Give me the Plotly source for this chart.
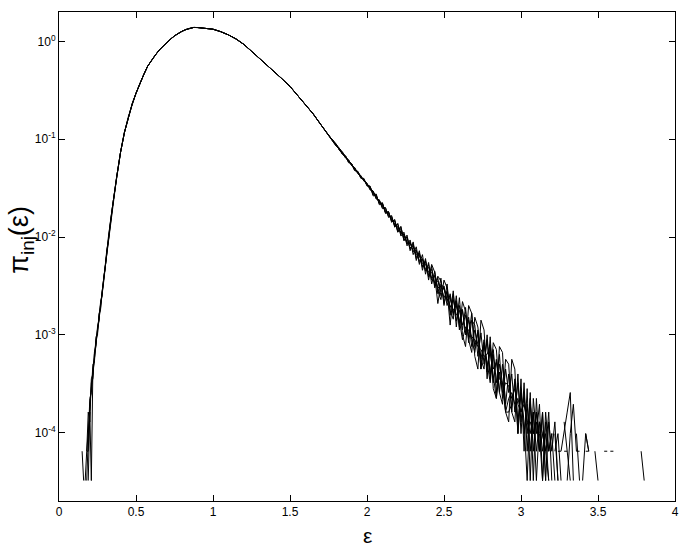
import plotly.graph_objects as go

# ---------------- data (log10 of pi_inj) ----------------
head_x = [0.15, 0.16, 0.17, 0.18, 0.19, 0.20, 0.21, 0.22, 0.23, 0.24,
          0.25, 0.26, 0.27, 0.28, 0.29, 0.30, 0.31, 0.32, 0.33, 0.34]

core_x = [0.350, 0.375, 0.400, 0.425, 0.450, 0.475, 0.500, 0.525, 0.550, 0.575,
          0.600, 0.625, 0.650, 0.675, 0.700, 0.725, 0.750, 0.775, 0.800, 0.825,
          0.850, 0.875, 0.900, 0.950, 1.000, 1.050, 1.100, 1.150, 1.200, 1.250,
          1.300, 1.350, 1.400, 1.450, 1.500, 1.550, 1.600, 1.650, 1.700, 1.750]
core_log = [-1.66, -1.38, -1.13, -0.93, -0.77, -0.64, -0.53, -0.43, -0.34, -0.255,
            -0.195, -0.14, -0.09, -0.048, -0.01, 0.025, 0.057, 0.084, 0.105, 0.122,
            0.136, 0.143, 0.142, 0.135, 0.125, 0.10, 0.067, 0.025, -0.03, -0.10,
            -0.17, -0.24, -0.31, -0.385, -0.46, -0.55, -0.64, -0.74, -0.85, -0.96]

tail_x = [1.80, 1.82, 1.84, 1.86, 1.88, 1.90, 1.92, 1.94, 1.96, 1.98,
          2.00, 2.02, 2.04, 2.06, 2.08, 2.10, 2.12, 2.14, 2.16, 2.18,
          2.20, 2.22, 2.24, 2.26, 2.28, 2.30, 2.32, 2.34, 2.36, 2.38,
          2.40, 2.42, 2.44, 2.46, 2.48, 2.50, 2.52, 2.54, 2.56, 2.58,
          2.60, 2.62, 2.64, 2.66, 2.68, 2.70, 2.72, 2.74, 2.76, 2.78,
          2.80, 2.82, 2.84, 2.86, 2.88, 2.90, 2.92, 2.94, 2.96, 2.98,
          3.00, 3.02, 3.04, 3.06, 3.08, 3.10, 3.12, 3.14, 3.16, 3.18,
          3.20, 3.22, 3.24, 3.26, 3.28, 3.30, 3.32, 3.34, 3.36, 3.38,
          3.40, 3.42, 3.44, 3.46, 3.48, 3.50, 3.52, 3.54, 3.56, 3.58,
          3.60, 3.62, 3.64, 3.66, 3.68, 3.70, 3.72, 3.74, 3.76, 3.78,
          3.80]

N = None

head_a = [N, N, N, N, -4.49, -3.79, -3.49, -3.45, -3.20, -3.12,
          -2.92, -2.85, -2.68, -2.60, -2.42, -2.32, -2.13, -2.05, -1.89, -1.79]
head_b = [-4.19, -4.49, N, -4.49, -4.01, -3.65, -3.59, -3.30, -3.28, -3.02,
          -3.00, -2.78, -2.74, -2.55, -2.46, -2.27, -2.17, -2.01, -1.91, -1.77]
head_c = [N, N, -4.49, -4.19, -4.19, -3.71, -3.54, -3.42, -3.18, -3.10,
          -2.94, -2.86, -2.66, -2.59, -2.43, -2.31, -2.14, -2.04, -1.90, -1.78]
head_d = [N, N, N, -4.19, -4.01, -3.79, -4.49, -3.35, -3.25, -3.05,
          -2.98, -2.80, -2.72, -2.56, -2.45, -2.29, -2.16, -2.02, -1.91, -1.78]
head_e = [N, N, N, -4.19, -3.79, -3.89, -3.45, -3.40, -3.22, -3.08,
          -2.95, -2.82, -2.71, -2.57, -2.44, -2.30, -2.15, -2.03, -1.90, -1.79]

tail_a = [-1.06, -1.09, -1.15, -1.17, -1.23, -1.25, -1.32, -1.33, -1.39, -1.41,
          -1.47, -1.48, -1.58, -1.57, -1.66, -1.65, -1.76, -1.74, -1.84, -1.83,
          -1.95, -1.90, -2.03, -2.00, -2.12, -2.07, -2.22, -2.16, -2.31, -2.24,
          -2.41, -2.30, -2.52, -2.40, -2.45, -2.68, -2.55, -2.90, -2.58, -2.86,
          -2.70, -2.95, -2.72, -3.08, -2.85, -2.90, -3.22, -2.98, -3.30, -3.05,
          -3.40, -3.15, -3.49, -3.20, -3.65, -3.35, -3.59, -3.40, -3.79, -3.49,
          -3.89, -3.59, -4.01, -3.65, -4.19, -3.79, -4.01, -4.49, -3.89, -4.19,
          -4.01, N, -4.19, -4.19, N, -4.49, -4.01, -3.71, -4.19, N,
          N, -4.19, -4.19, N, N, N, N, N, N, N,
          N, N, N, N, N, N, N, N, N, -4.19,
          -4.49]
tail_b = [-1.07, -1.10, -1.14, -1.19, -1.21, -1.27, -1.29, -1.35, -1.37, -1.43,
          -1.45, -1.51, -1.53, -1.61, -1.62, -1.70, -1.70, -1.79, -1.79, -1.89,
          -1.87, -1.97, -1.97, -2.07, -2.05, -2.15, -2.13, -2.26, -2.22, -2.35,
          -2.28, -2.44, -2.40, -2.68, -2.48, -2.52, -2.70, -2.58, -2.78, -2.66,
          -2.92, -2.75, -2.98, -2.85, -3.12, -2.95, -3.10, -3.25, -3.05, -3.38,
          -3.12, -3.49, -3.25, -3.59, -3.30, -3.71, -3.40, -3.79, -3.45, -3.89,
          -3.55, -4.01, -3.71, -4.19, -3.79, -4.49, -3.89, -4.01, -4.19, -3.79,
          -4.49, N, N, -4.19, -4.01, -3.79, -3.59, -4.49, N, N,
          -4.49, -4.01, -4.19, N, N, N, N, -4.19, -4.19, N,
          N, N, N, N, N, N, N, N, N, N,
          N]
tail_c = [-1.05, -1.11, -1.13, -1.18, -1.23, -1.25, -1.31, -1.33, -1.39, -1.41,
          -1.47, -1.49, -1.56, -1.58, -1.65, -1.67, -1.74, -1.75, -1.83, -1.84,
          -1.93, -1.92, -2.01, -2.01, -2.11, -2.09, -2.20, -2.17, -2.30, -2.25,
          -2.39, -2.33, -2.50, -2.42, -2.60, -2.50, -2.66, -2.60, -2.80, -2.65,
          -2.88, -2.74, -3.00, -2.82, -3.05, -3.18, -2.95, -3.35, -3.08, -3.28,
          -3.49, -3.20, -3.59, -3.30, -3.49, -3.79, -3.79, -3.71, -3.49, -4.01,
          -3.59, -3.89, -4.49, -3.71, -4.01, -3.89, -4.19, -3.79, -4.49, N,
          -4.19, -3.89, -4.49, N, -4.19, -4.19, N, N, -4.01, -4.49,
          N, -4.01, -4.19, N, -4.19, -4.49, N, N, N, -4.19,
          -4.19, N, N, N, N, N, N, N, N, N,
          N]
tail_d = [-1.06, -1.10, -1.15, -1.18, -1.22, -1.27, -1.30, -1.34, -1.38, -1.43,
          -1.46, -1.50, -1.54, -1.60, -1.63, -1.69, -1.72, -1.78, -1.80, -1.88,
          -1.89, -1.95, -1.98, -2.05, -2.07, -2.10, -2.18, -2.19, -2.27, -2.28,
          -2.36, -2.36, -2.47, -2.45, -2.56, -2.52, -2.64, -2.63, -2.75, -2.70,
          -2.85, -3.05, -2.92, -2.95, -3.02, -3.05, -3.12, -3.15, -3.22, -3.20,
          -3.10, -3.35, -3.28, -3.45, -3.49, -3.79, -3.65, -3.59, -3.71, -3.65,
          -3.79, -3.71, -3.89, -3.89, -4.01, -3.79, -4.19, -4.01, -4.19, -4.49,
          N, -4.19, -4.01, -4.49, N, N, N, N, -4.19, -4.19,
          N, N, N, N, N, N, N, N, N, N,
          N, N, N, N, N, N, N, N, N, N,
          N]
tail_e = [-1.07, -1.09, -1.15, -1.17, -1.23, -1.26, -1.31, -1.33, -1.39, -1.42,
          -1.46, -1.51, -1.55, -1.58, -1.65, -1.66, -1.75, -1.76, -1.82, -1.87,
          -1.90, -1.96, -1.97, -2.06, -2.06, -2.14, -2.14, -2.24, -2.23, -2.33,
          -2.31, -2.42, -2.39, -2.52, -2.50, -2.62, -2.56, -2.72, -2.64, -2.80,
          -2.75, -2.90, -2.80, -3.02, -2.78, -3.12, -2.98, -3.35, -3.10, -3.32,
          -3.18, -3.40, -3.65, -3.38, -3.59, -3.49, -3.52, -3.65, -3.55, -3.71,
          -3.79, -3.65, -3.89, -4.01, -3.79, -4.19, -3.89, -4.19, -4.01, -4.49,
          N, -4.01, -4.49, N, -3.89, -4.19, -4.49, N, N, N,
          N, N, N, N, N, N, N, N, N, N,
          N, N, N, N, N, N, N, N, N, N,
          N]
# two further runs, visible only where they separate from the others (tail)
tail_f = [-1.05, -1.11, -1.15, -1.17, -1.24, -1.25, -1.32, -1.33, -1.40, -1.40,
          -1.48, -1.48, -1.57, -1.56, -1.67, -1.65, -1.75, -1.74, -1.85, -1.82,
          -1.95, -1.89, -2.04, -1.98, -2.14, -2.05, -2.24, -2.14, -2.34, -2.22,
          -2.44, -2.28, -2.36, -2.55, -2.64, -2.44, -2.52, -2.75, -2.84, -2.60,
          -2.95, -2.66, -2.76, -3.05, -3.18, -2.82, -2.92, -3.25, -3.35, -3.00,
          -3.45, -3.08, -3.15, -3.59, -3.71, -3.25, -3.30, -3.79, -3.89, -3.40,
          -4.01, -3.49, -4.19, -3.59, -4.49, -3.65, -4.19, -3.79, -4.49, -3.89,
          -4.19, N, N, N, N, N, N, N, N, N,
          N, N, N, N, N, N, N, N, N, N,
          N, N, N, N, N, N, N, N, N, N,
          N]
tail_g = [-1.06, -1.10, -1.13, -1.19, -1.21, -1.27, -1.29, -1.35, -1.38, -1.42,
          -1.45, -1.52, -1.53, -1.61, -1.62, -1.71, -1.70, -1.80, -1.78, -1.90,
          -1.86, -1.99, -1.95, -2.09, -2.03, -2.18, -2.10, -2.28, -2.18, -2.38,
          -2.26, -2.48, -2.35, -2.58, -2.42, -2.70, -2.48, -2.80, -2.55, -2.92,
          -2.62, -3.00, -3.12, -2.70, -2.78, -3.22, -3.35, -2.85, -2.95, -3.45,
          -3.02, -3.55, -3.65, -3.12, -3.18, -3.79, -3.89, -3.25, -3.35, -4.01,
          -3.45, -4.19, -3.55, -4.49, -3.65, -4.01, -3.71, -4.49, -3.79, -4.19,
          -4.01, -4.49, N, N, N, N, N, N, N, N,
          N, N, N, N, N, N, N, N, N, N,
          N, N, N, N, N, N, N, N, N, N,
          N]

heads = [head_a, head_b, head_c, head_d, head_e]
tails = [tail_a, tail_b, tail_c, tail_d, tail_e]
extra_tails = [tail_f, tail_g]

x_ticks = [0, 0.5, 1, 1.5, 2, 2.5, 3, 3.5, 4]
x_ticktext = ["0", "0.5", "1", "1.5", "2", "2.5", "3", "3.5", "4"]
y_ticks = [1e-4, 1e-3, 1e-2, 1e-1, 1]
y_ticktext = ["10<sup>-4</sup>", "10<sup>-3</sup>", "10<sup>-2</sup>",
              "10<sup>-1</sup>", "10<sup>0</sup>"]


def to_lin(logs):
    return [None if v is None else 10 ** v for v in logs]


# ---------------- figure ----------------
fig = go.Figure()
line_style = dict(color="black", width=1)
for h, t in zip(heads, tails):
    fig.add_trace(go.Scatter(x=head_x + core_x + tail_x,
                             y=to_lin(h + core_log + t), mode="lines",
                             line=line_style, connectgaps=False,
                             showlegend=False, hoverinfo="skip"))
for t in extra_tails:
    fig.add_trace(go.Scatter(x=core_x[-1:] + tail_x,
                             y=to_lin(core_log[-1:] + t), mode="lines",
                             line=line_style, connectgaps=False,
                             showlegend=False, hoverinfo="skip"))

FONT = "Liberation Sans, Arial, Helvetica, sans-serif"
axis_common = dict(showline=True, linecolor="black", linewidth=1, mirror="ticks",
                   ticks="inside", ticklen=6, tickcolor="black", tickwidth=1,
                   showgrid=False, zeroline=False,
                   tickfont=dict(family=FONT, size=12, color="black"))

fig.update_layout(
    width=689, height=547,
    margin=dict(l=59, r=10, t=12, b=46),
    paper_bgcolor="white", plot_bgcolor="white",
    font=dict(family=FONT, color="black"),
    xaxis=dict(range=[0, 4], tickvals=x_ticks, ticktext=x_ticktext, **axis_common),
    yaxis=dict(type="log", range=[-4.699, 0.301], tickvals=y_ticks,
               ticktext=y_ticktext, **axis_common),
    annotations=[
        dict(text="ε", xref="paper", yref="paper", x=0.5, y=-0.07,
             xanchor="center", yanchor="middle", showarrow=False,
             font=dict(family=FONT, size=21, color="black")),
        dict(text="π<sub>inj</sub>(ε)", xref="paper", yref="paper",
             x=-0.062, y=0.534, xanchor="center", yanchor="middle",
             textangle=-90, showarrow=False,
             font=dict(family=FONT, size=27, color="black")),
    ],
)

fig.write_html("out.html",
               config={"displayModeBar": False},
               post_script="document.body.style.margin='0px';"
                           "document.body.style.overflow='hidden';")
